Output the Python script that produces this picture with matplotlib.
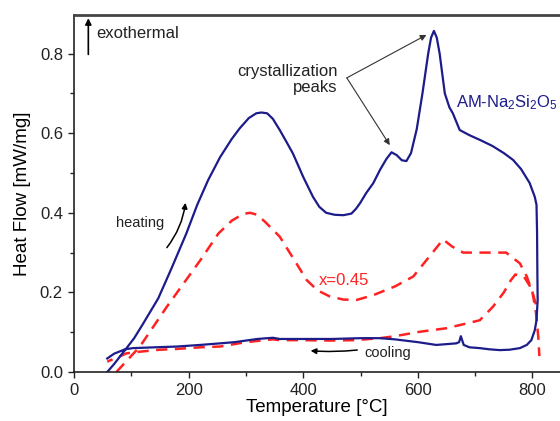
import matplotlib
matplotlib.use("Agg")
import matplotlib.pyplot as plt
from matplotlib.ticker import MultipleLocator
from matplotlib.patches import FancyArrowPatch

plt.rcParams['font.family'] = ['Liberation Sans', 'DejaVu Sans']
plt.rcParams['mathtext.default'] = 'regular'

# Blue: AM-Na2Si2O5 (heating then cooling)
blue_T = [58, 70, 89, 105, 120, 147, 170, 196, 215, 234, 255, 275, 289, 305, 318, 327, 337, 347, 359, 370, 382,
          400, 417, 428, 440, 455, 470, 484, 492, 499, 510, 522, 534, 545, 554, 563, 572, 580, 588, 598,
          608, 618, 623, 628, 633, 638, 647, 655, 661, 673, 690, 710, 730, 750, 766, 780, 795, 804, 807,
          808, 808.5, 809, 807, 804, 798, 790, 778, 760, 743, 725, 708, 690, 680, 675, 672, 667, 650, 632,
          600, 560, 534, 500, 450, 400, 359, 347, 320, 280, 255, 220, 180, 140, 103, 89, 70, 58]
blue_H = [0.0, 0.02, 0.055, 0.085, 0.12, 0.185, 0.26, 0.348, 0.42, 0.482, 0.54, 0.585, 0.612, 0.638, 0.65, 0.652,
          0.65, 0.636, 0.608, 0.58, 0.549, 0.49, 0.44, 0.415, 0.40, 0.395, 0.394, 0.398, 0.41, 0.424, 0.45,
          0.474, 0.508, 0.535, 0.552, 0.545, 0.532, 0.53, 0.55, 0.61, 0.70, 0.80, 0.84, 0.857, 0.84, 0.80,
          0.70, 0.665, 0.65, 0.608, 0.595, 0.582, 0.568, 0.55, 0.533, 0.51, 0.475, 0.44, 0.42, 0.35, 0.25,
          0.18, 0.13, 0.105, 0.08, 0.068, 0.06, 0.056, 0.055, 0.057, 0.06, 0.062, 0.068, 0.09, 0.075, 0.072,
          0.07, 0.068, 0.075, 0.082, 0.085, 0.085, 0.083, 0.083, 0.083, 0.086, 0.083, 0.075, 0.072, 0.068,
          0.064, 0.062, 0.06, 0.057, 0.046, 0.034]

# Red dashed: x=0.45 heating
red_heat_T = [74, 115, 162, 220, 252, 275, 295, 307, 320, 335, 359, 385, 406, 425, 446, 470, 493, 522, 560,
              592, 620, 644, 660, 679, 720, 754, 778, 790, 800, 806, 810, 812]
red_heat_H = [0.0, 0.064, 0.164, 0.28, 0.348, 0.38, 0.397, 0.40, 0.395, 0.375, 0.34, 0.28, 0.231, 0.205, 0.19,
              0.182, 0.181, 0.193, 0.215, 0.24, 0.29, 0.333, 0.315, 0.30, 0.30, 0.30, 0.273, 0.24, 0.20, 0.15,
              0.09, 0.04]
# Red dashed: x=0.45 cooling
red_cool_T = [806, 798, 785, 770, 762, 750, 731, 708, 685, 650, 603, 560, 534, 490, 446, 400, 359, 347, 300, 255,
              220, 180, 150, 115, 92, 58]
red_cool_H = [0.17, 0.21, 0.24, 0.245, 0.23, 0.2, 0.164, 0.13, 0.122, 0.11, 0.101, 0.09, 0.085, 0.08, 0.079, 0.08,
              0.08, 0.082, 0.075, 0.064, 0.062, 0.058, 0.056, 0.051, 0.047, 0.026]

fig = plt.figure(figsize=(5.6, 4.21), dpi=100)
ax = fig.add_axes([74/560, 1-372/421, 1-74/560, (372-15)/421])

navy = '#1c1c8a'
red = '#ff2222'
ax.plot(red_heat_T, red_heat_H, color=red, lw=1.8, ls=(0, (4.5, 3)))
ax.plot(red_cool_T, red_cool_H, color=red, lw=1.8, ls=(0, (4.5, 3)))
ax.plot(blue_T, blue_H, color=navy, lw=1.6)

ax.set_xlim(0, 848)
ax.set_ylim(0, 0.897)
ax.xaxis.set_major_locator(MultipleLocator(200))
ax.xaxis.set_minor_locator(MultipleLocator(100))
ax.yaxis.set_major_locator(MultipleLocator(0.2))
ax.yaxis.set_minor_locator(MultipleLocator(0.1))
ax.yaxis.set_major_formatter(matplotlib.ticker.FormatStrFormatter('%.1f'))
ax.tick_params(which='major', direction='out', length=4.5, width=1, labelsize=12, colors='#222222')
ax.tick_params(which='minor', direction='out', length=3, width=1, colors='#222222')
ax.spines['right'].set_visible(False)
for s in ['left', 'bottom']:
    ax.spines[s].set_linewidth(1.2)
    ax.spines[s].set_color('#222222')
ax.spines['top'].set_linewidth(2)
ax.spines['top'].set_color('#444444')

ax.set_xlabel('Temperature [°C]', fontsize=13.5, labelpad=1)
ax.set_ylabel('Heat Flow [mW/mg]', fontsize=13.5, labelpad=6)

# annotations
ax.annotate('', xy=(25, 0.889), xytext=(25, 0.798),
            arrowprops=dict(arrowstyle='-|>', color='black', lw=1.2, mutation_scale=9, shrinkA=0, shrinkB=0))
ax.text(38, 0.851, 'exothermal', fontsize=12, va='center', ha='left', color='#222222')

ax.text(460, 0.735, 'crystallization\npeaks', fontsize=12, ha='right', va='center', multialignment='right',
        color='#222222', linespacing=1.1)
for tgt in [(615, 0.847), (551, 0.570)]:
    ax.annotate('', xy=tgt, xytext=(476, 0.739),
                arrowprops=dict(arrowstyle='-|>', color='#333333', lw=0.8, mutation_scale=9, shrinkA=0, shrinkB=0))

ax.text(667, 0.676, 'AM-Na$_2$Si$_2$O$_5$', fontsize=12, color=navy, ha='left', va='center')
ax.text(427, 0.231, 'x=0.45', fontsize=12, color=red, ha='left', va='center')

ax.text(115, 0.375, 'heating', fontsize=10.5, ha='center', va='center', color='#222222')
ax.add_patch(FancyArrowPatch((159, 0.307), (195, 0.432), connectionstyle='arc3,rad=0.15',
                             arrowstyle='-|>', mutation_scale=8, color='black', lw=1.1))
ax.text(507, 0.048, 'cooling', fontsize=10.5, ha='left', va='center', color='#222222')
ax.add_patch(FancyArrowPatch((499, 0.056), (408, 0.054), connectionstyle='arc3,rad=-0.05',
                             arrowstyle='-|>', mutation_scale=8, color='black', lw=1.1))

fig.savefig('out.png', dpi=100)
